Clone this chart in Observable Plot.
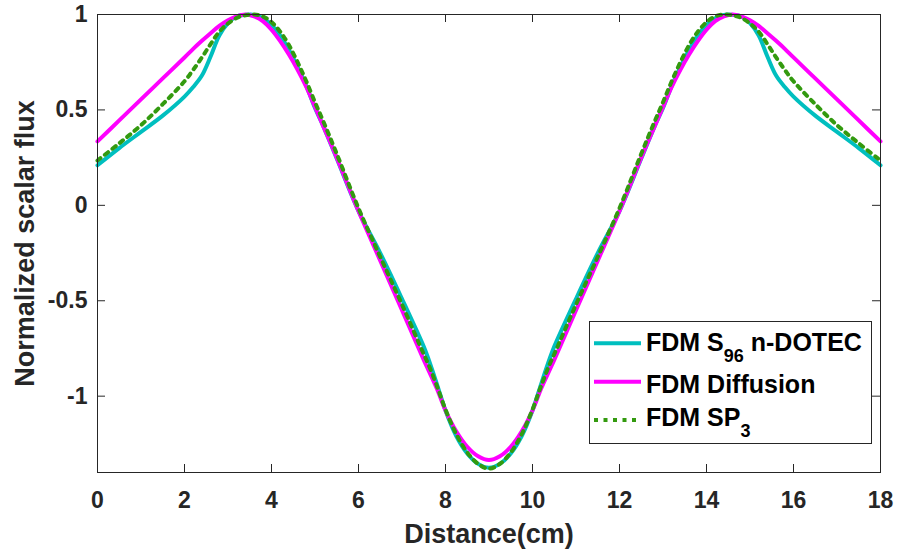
<!DOCTYPE html>
<html>
<head>
<meta charset="utf-8">
<script src="https://cdn.jsdelivr.net/npm/d3@7"></script>
<script src="https://cdn.jsdelivr.net/npm/@observablehq/plot@0.6"></script>
<style>
  html, body { margin: 0; padding: 0; background: #ffffff; }
  #chart { position: relative; width: 898px; height: 554px; }
</style>
</head>
<body>
<div id="chart"></div>
<script>
const distance = [0,0.5,1,1.5,2,2.2,2.4,2.6,2.8,3,3.2,3.4,3.6,3.8,4,4.2,4.4,4.6,4.8,5,5.2,5.5,6,6.5,7,7.5,7.6,7.8,8,8.25,8.5,8.75,9,
  9.25,9.5,9.75,10,10.2,10.4,10.5,11,11.5,12,12.5,12.8,13,13.2,13.4,13.6,13.8,14,14.2,14.4,14.6,14.8,15,15.2,15.4,15.6,15.8,16,16.5,17,17.5,18];

const sn96 = [0.21,0.30,0.385,0.47,0.57,0.62,0.68,0.78,0.89,0.955,0.99,0.998,0.998,0.98,0.945,0.89,0.815,0.725,0.625,0.51,0.41,0.245,-0.03,-0.25,-0.49,-0.74,-0.80,-0.935,-1.075,-1.21,-1.3,-1.355,-1.375,
  -1.355,-1.3,-1.21,-1.075,-0.935,-0.80,-0.74,-0.49,-0.25,-0.03,0.245,0.41,0.51,0.625,0.725,0.815,0.89,0.945,0.98,0.998,0.998,0.99,0.955,0.89,0.78,0.68,0.62,0.57,0.47,0.385,0.30,0.21];

const diffusion = [0.335,0.445,0.555,0.665,0.775,0.82,0.862,0.902,0.94,0.97,0.99,1.0,0.99,0.965,0.92,0.86,0.79,0.71,0.62,0.516,0.41,0.25,-0.03,-0.29,-0.55,-0.81,-0.86,-0.96,-1.075,-1.185,-1.265,-1.315,-1.335,
  -1.315,-1.265,-1.185,-1.075,-0.96,-0.86,-0.81,-0.55,-0.29,-0.03,0.25,0.41,0.516,0.62,0.71,0.79,0.86,0.92,0.965,0.99,1.0,0.99,0.97,0.94,0.902,0.862,0.82,0.775,0.665,0.555,0.445,0.335];

const sp3 = [0.235,0.325,0.42,0.53,0.65,0.71,0.775,0.845,0.91,0.953,0.982,0.996,1.0,0.99,0.96,0.91,0.84,0.75,0.65,0.54,0.435,0.27,-0.015,-0.27,-0.52,-0.78,-0.83,-0.945,-1.07,-1.2,-1.295,-1.355,-1.38,
  -1.355,-1.295,-1.2,-1.07,-0.945,-0.83,-0.78,-0.52,-0.27,-0.015,0.27,0.435,0.54,0.65,0.75,0.84,0.91,0.96,0.99,1.0,0.996,0.982,0.953,0.91,0.845,0.775,0.71,0.65,0.53,0.42,0.325,0.235];

const xTicks = [0,2,4,6,8,10,12,14,16,18];
const yTicks = [-1,-0.5,0,0.5,1];
const xLabel = "Distance(cm)";
const yLabel = "Normalized scalar flux";

const colors = {sn: "#00bfbf", diff: "#ff00ff", sp3: "#339a0f"};
const axisColor = "#262626";
const font = "'Liberation Sans', Arial, Helvetica, sans-serif";

const toRows = (ys) => distance.map((x, i) => ({x, y: ys[i]}));

const W = 898, H = 554, mL = 97, mR = 18, mT = 14, mB = 82;
const innerW = W - mL - mR, innerH = H - mT - mB, tickLen = 8;

const svg = Plot.plot({
  width: W, height: H,
  marginLeft: mL, marginRight: mR, marginTop: mT, marginBottom: mB,
  style: {fontFamily: font, fontWeight: "bold", color: axisColor, background: "#ffffff"},
  x: {domain: [0, 18]},
  y: {domain: [-1.4, 1]},
  marks: [
    Plot.line(toRows(sn96), {x: "x", y: "y", stroke: colors.sn, strokeWidth: 4, curve: "catmull-rom"}),
    Plot.line(toRows(diffusion), {x: "x", y: "y", stroke: colors.diff, strokeWidth: 4, curve: "catmull-rom"}),
    Plot.line(toRows(sp3), {x: "x", y: "y", stroke: colors.sp3, strokeWidth: 4, strokeDasharray: "4,5.5", curve: "catmull-rom"}),
    Plot.frame({stroke: axisColor, strokeWidth: 1}),
    Plot.tickX(xTicks, {x: d => d, insetTop: innerH - tickLen, stroke: axisColor}),
    Plot.tickX(xTicks, {x: d => d, insetBottom: innerH - tickLen, stroke: axisColor}),
    Plot.tickY(yTicks, {y: d => d, insetRight: innerW - tickLen, stroke: axisColor}),
    Plot.tickY(yTicks, {y: d => d, insetLeft: innerW - tickLen, stroke: axisColor}),
    Plot.axisX(xTicks, {tickSize: 0, tickPadding: 19, fontSize: 23, tickFormat: d => String(d), label: null, fill: axisColor}),
    Plot.axisY(yTicks, {tickSize: 0, tickPadding: 10, fontSize: 23, tickFormat: d => String(d), label: null, fill: axisColor}),
    Plot.text([xLabel], {frameAnchor: "bottom", textAnchor: "middle", lineAnchor: "bottom", dy: 70, fontSize: 27, fontWeight: "bold", fill: axisColor}),
    Plot.text([yLabel], {frameAnchor: "left", textAnchor: "middle", lineAnchor: "bottom", rotate: -90, dx: -64, fontSize: 27, fontWeight: "bold", fill: axisColor})
  ]
});

document.getElementById("chart").appendChild(svg);

// Legend (inside plot area, lower right)
const legendItems = [
  {main: "FDM S", sub: "96", rest: " n-DOTEC", color: colors.sn, dash: null},
  {main: "FDM Diffusion", sub: null, rest: "", color: colors.diff, dash: null},
  {main: "FDM SP", sub: "3", rest: "", color: colors.sp3, dash: "4,5.5"}
];
const lg = d3.select(svg).append("g").attr("class", "legend");
lg.append("rect").attr("x", 589.5).attr("y", 321.5).attr("width", 282).attr("height", 122)
  .attr("fill", "#ffffff").attr("stroke", axisColor).attr("stroke-width", 1);
const rowLineY = [343.3, 381.7, 420];
const rowBase = [350.5, 392.5, 426];
legendItems.forEach((it, i) => {
  lg.append("line").attr("x1", 594).attr("x2", 641).attr("y1", rowLineY[i]).attr("y2", rowLineY[i])
    .attr("stroke", it.color).attr("stroke-width", 4)
    .attr("stroke-dasharray", it.dash);
  const t = lg.append("text").attr("x", 646).attr("y", rowBase[i])
    .attr("text-anchor", "start")
    .attr("font-family", font).attr("font-weight", "bold").attr("font-size", 25).attr("fill", "#000000");
  t.append("tspan").text(it.main);
  if (it.sub) {
    t.append("tspan").attr("dy", 11).attr("font-size", 18).text(it.sub);
    if (it.rest) t.append("tspan").attr("dy", -11).text(it.rest);
  }
});
</script>
</body>
</html>
